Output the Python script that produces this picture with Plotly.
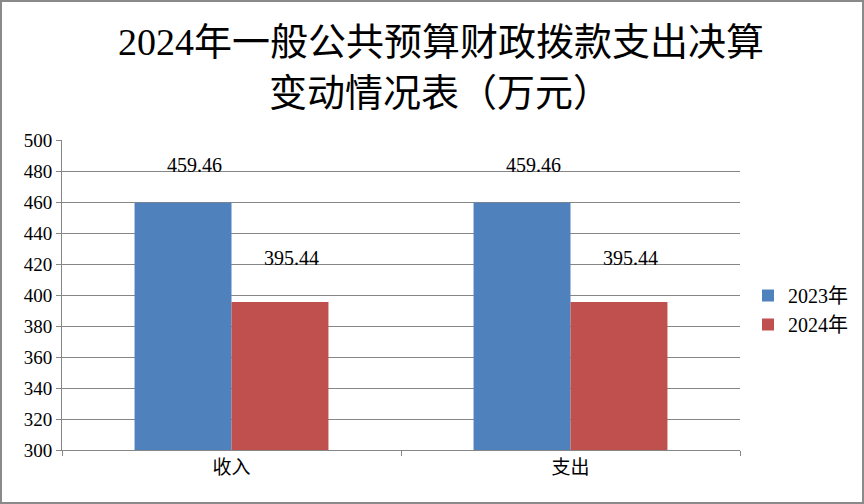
import plotly.graph_objects as go

categories = ["收入", "支出"]
series_names = ["2023年", "2024年"]
values_2023 = [459.46, 459.46]
values_2024 = [395.44, 395.44]
label_2023 = ["459.46", "459.46"]
label_2024 = ["395.44", "395.44"]
colors = ["#4F81BD", "#C0504D"]
title_lines = ["2024年一般公共预算财政拨款支出决算", "变动情况表（万元）"]
y_ticks = list(range(300, 501, 20))

FONT = "'Liberation Serif', 'Noto Sans CJK SC', serif"
GRID = "#868686"

fig = go.Figure()
fig.add_trace(go.Bar(x=categories, y=values_2023, name=series_names[0],
                     marker=dict(color=colors[0], line=dict(width=0))))
fig.add_trace(go.Bar(x=categories, y=values_2024, name=series_names[1],
                     marker=dict(color=colors[1], line=dict(width=0))))

W, H = 864, 504
ml, mr, mt, mb = 62, 124, 140, 54
pw, ph = W - ml - mr, H - mt - mb

annotations = []
for cat, v, t in zip(categories, values_2023, label_2023):
    annotations.append(dict(x=cat, y=v, text=t, showarrow=False, xref="x", yref="y",
                            xshift=-37, yshift=38, font=dict(family=FONT, size=20, color="black")))
for cat, v, t in zip(categories, values_2024, label_2024):
    annotations.append(dict(x=cat, y=v, text=t, showarrow=False, xref="x", yref="y",
                            xshift=60, yshift=44, font=dict(family=FONT, size=20, color="black")))
# title lines
for line, xpx, ypx in zip(title_lines, [441, 440], [42, 93]):
    annotations.append(dict(x=(xpx - ml) / pw, y=(H - mb - ypx) / ph, xref="paper", yref="paper",
                            text=line, showarrow=False, xanchor="center", yanchor="middle",
                            font=dict(family=FONT, size=38, color="black")))

fig.update_layout(
    width=W, height=H,
    margin=dict(l=ml, r=mr, t=mt, b=mb, autoexpand=False),
    paper_bgcolor="white", plot_bgcolor="white",
    barmode="group", bargap=0.428, bargroupgap=0,
    font=dict(family=FONT, color="black"),
    legend=dict(x=1 + 8 / pw, y=(H - mb - 310) / ph, xanchor="left", yanchor="middle",
                font=dict(family=FONT, size=20, color="black"),
                bgcolor="rgba(0,0,0,0)", itemwidth=30, tracegroupgap=0),
    annotations=annotations,
    showlegend=True,
    shapes=[dict(type="rect", xref="paper", yref="paper",
                 x0=-(ml - 1) / pw, x1=(W - ml - 1) / pw,
                 y0=-(mb - 1) / ph, y1=(H - mb - 1) / ph,
                 line=dict(color="#8a8a8a", width=2), fillcolor="rgba(0,0,0,0)")],
)

fig.update_xaxes(type="category", showline=True, linecolor=GRID, linewidth=1,
                 ticks="outside", tickson="boundaries", ticklen=5, tickcolor=GRID,
                 showgrid=False, tickfont=dict(family=FONT, size=19, color="black"))
fig.update_yaxes(range=[300, 500], tickvals=y_ticks, showline=True, linecolor=GRID,
                 linewidth=1, ticks="outside", ticklen=5, tickcolor=GRID,
                 showgrid=True, gridcolor=GRID, gridwidth=1, zeroline=False,
                 tickfont=dict(family=FONT, size=19, color="black"))

fig.write_html("out.html", config={"displayModeBar": False},
               post_script="document.body.style.margin='0';document.body.style.overflow='hidden';")
